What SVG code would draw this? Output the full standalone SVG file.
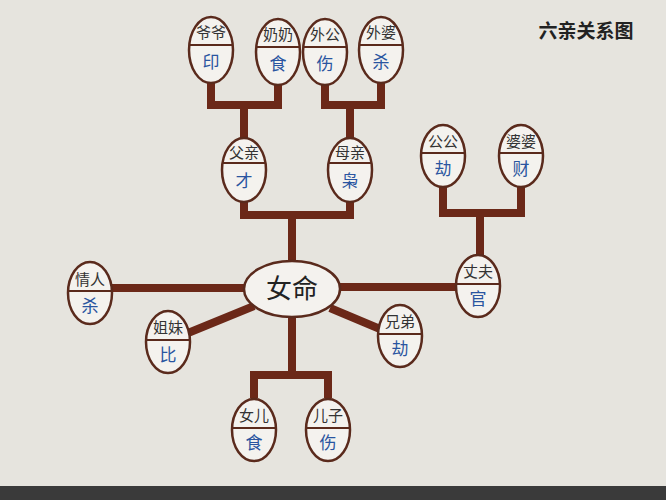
<svg xmlns="http://www.w3.org/2000/svg" width="666" height="500" viewBox="0 0 666 500">
<style>
.n ellipse{fill:#f4f2ee;stroke:#5a2a1c;stroke-width:2.5}
.n line{stroke:#5a2a1c;stroke-width:2}
.t{font-family:"Noto Sans CJK SC",sans-serif;font-size:15px;fill:#333;text-anchor:middle}
.b{font-family:"Noto Sans CJK SC",sans-serif;font-size:17px;fill:#2a55a0;text-anchor:middle}
#edges path{fill:none;stroke:#6b2818;stroke-width:8;stroke-linejoin:miter}
</style>
<rect width="666" height="500" fill="#e6e4de"/>
<rect y="486" width="666" height="14" fill="#3a3a3a"/>
<text x="586" y="38" font-family="Noto Sans CJK SC,sans-serif" font-size="19" font-weight="bold" fill="#222" text-anchor="middle">六亲关系图</text>
<g id="edges">
<path d="M211 80V105H278V82M244 105V140"/>
<path d="M325 82V105H381V80M350 105V140"/>
<path d="M244 200V215H350V200M292 215V262"/>
<path d="M443 186V213H521V186M480 213V256"/>
<path d="M110 288H245M339 287H458"/>
<path d="M188 333L254 306M330 308L380 329"/>
<path d="M292 316V375M254 398V375H328V398"/>
</g>
<g id="n-yeye" class="n"><ellipse cx="211" cy="50" rx="22" ry="33"/><line x1="189" y1="45" x2="233" y2="45"/><text class="t" x="211" y="38">爷爷</text><text class="b" x="211" y="68">印</text></g>
<g id="n-nainai" class="n"><ellipse cx="278" cy="52" rx="22" ry="33"/><line x1="256" y1="47" x2="300" y2="47"/><text class="t" x="278" y="40">奶奶</text><text class="b" x="278" y="70">食</text></g>
<g id="n-waigong" class="n"><ellipse cx="325" cy="52" rx="22" ry="33"/><line x1="303" y1="47" x2="347" y2="47"/><text class="t" x="325" y="40">外公</text><text class="b" x="325" y="70">伤</text></g>
<g id="n-waipo" class="n"><ellipse cx="381" cy="50" rx="22" ry="33"/><line x1="359" y1="45" x2="403" y2="45"/><text class="t" x="381" y="38">外婆</text><text class="b" x="381" y="68">杀</text></g>
<g id="n-fuqin" class="n"><ellipse cx="244" cy="170" rx="22" ry="32"/><line x1="222" y1="163" x2="266" y2="163"/><text class="t" x="244" y="158">父亲</text><text class="b" x="244" y="187">才</text></g>
<g id="n-muqin" class="n"><ellipse cx="350" cy="170" rx="22" ry="32"/><line x1="328" y1="163" x2="372" y2="163"/><text class="t" x="350" y="158">母亲</text><text class="b" x="350" y="187">枭</text></g>
<g id="n-gonggong" class="n"><ellipse cx="443" cy="156" rx="22" ry="31"/><line x1="421" y1="153" x2="465" y2="153"/><text class="t" x="443" y="147">公公</text><text class="b" x="443" y="175">劫</text></g>
<g id="n-popo" class="n"><ellipse cx="521" cy="156" rx="22" ry="31"/><line x1="499" y1="153" x2="543" y2="153"/><text class="t" x="521" y="147">婆婆</text><text class="b" x="521" y="175">财</text></g>
<g id="n-nvming" class="n"><ellipse cx="292" cy="289" rx="48" ry="28"/><text x="292" y="298" font-family="Noto Sans CJK SC,sans-serif" font-size="26" fill="#222" text-anchor="middle">女命</text></g>
<g id="n-qingren" class="n"><ellipse cx="90" cy="293" rx="22" ry="31"/><line x1="68" y1="291" x2="112" y2="291"/><text class="t" x="90" y="285">情人</text><text class="b" x="90" y="312">杀</text></g>
<g id="n-zhangfu" class="n"><ellipse cx="478" cy="286" rx="22" ry="31"/><line x1="456" y1="284" x2="500" y2="284"/><text class="t" x="478" y="277">丈夫</text><text class="b" x="478" y="305">官</text></g>
<g id="n-jiemei" class="n"><ellipse cx="168" cy="342" rx="22" ry="31"/><line x1="146" y1="340" x2="190" y2="340"/><text class="t" x="168" y="333">姐妹</text><text class="b" x="168" y="361">比</text></g>
<g id="n-xiongdi" class="n"><ellipse cx="400" cy="336" rx="22" ry="31"/><line x1="378" y1="334" x2="422" y2="334"/><text class="t" x="400" y="327">兄弟</text><text class="b" x="400" y="355">劫</text></g>
<g id="n-nver" class="n"><ellipse cx="254" cy="430" rx="22" ry="31"/><line x1="232" y1="428" x2="276" y2="428"/><text class="t" x="254" y="421">女儿</text><text class="b" x="254" y="449">食</text></g>
<g id="n-erzi" class="n"><ellipse cx="328" cy="430" rx="22" ry="31"/><line x1="306" y1="428" x2="350" y2="428"/><text class="t" x="328" y="421">儿子</text><text class="b" x="328" y="449">伤</text></g>
</svg>
